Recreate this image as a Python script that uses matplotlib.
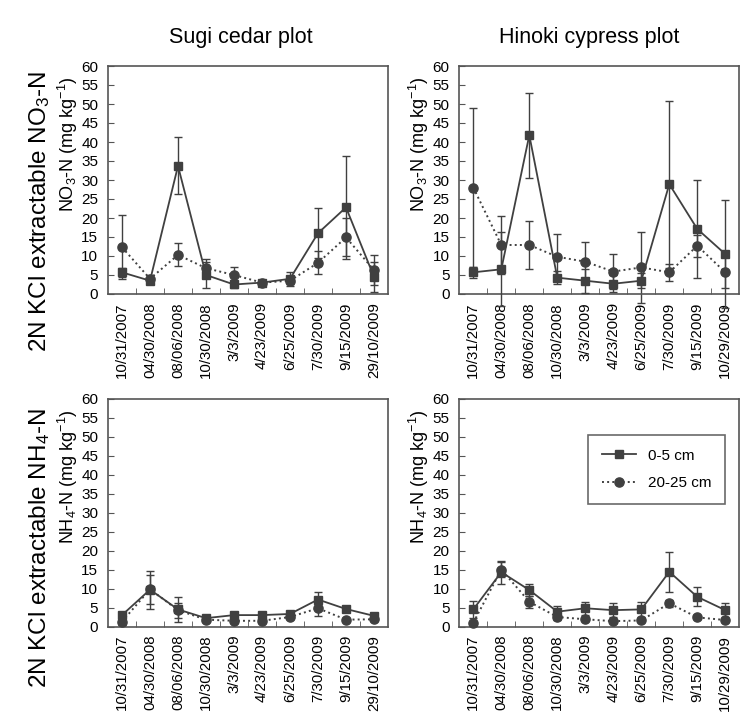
import matplotlib
matplotlib.use("Agg")
import matplotlib.pyplot as plt
from matplotlib.ticker import MultipleLocator, FixedLocator

plt.rcParams['font.family'] = ['Liberation Sans', 'DejaVu Sans']
plt.rcParams['mathtext.default'] = 'regular'

# sampling dates (x categories)
dates_sugi = ['10/31/2007', '04/30/2008', '08/06/2008', '10/30/2008', '3/3/2009',
              '4/23/2009', '6/25/2009', '7/30/2009', '9/15/2009', '29/10/2009']
dates_hinoki = ['10/31/2007', '04/30/2008', '08/06/2008', '10/30/2008', '3/3/2009',
                '4/23/2009', '6/25/2009', '7/30/2009', '9/15/2009', '10/29/2009']

# NO3-N, Sugi cedar plot
sugi_no3_top = [5.7, 3.5, 33.7, 5.0, 2.5, 3.0, 4.0, 16.0, 22.8, 4.5]
sugi_no3_top_sd = [1.2, 0.8, 7.5, 3.5, 0.8, 0.5, 1.8, 6.5, 13.5, 4.0]
sugi_no3_sub = [12.3, 4.0, 10.3, 6.8, 5.0, 3.0, 3.5, 8.2, 14.9, 6.3]
sugi_no3_sub_sd = [8.4, 1.0, 3.0, 2.5, 2.2, 0.5, 1.0, 3.0, 5.0, 4.0]

# NO3-N, Hinoki cypress plot
hinoki_no3_top = [5.7, 6.5, 41.8, 4.3, 3.5, 2.7, 3.5, 28.9, 17.1, 10.5]
hinoki_no3_top_sd = [1.5, 9.7, 11.2, 1.8, 3.2, 2.3, 2.0, 22.0, 13.0, 14.2]
hinoki_no3_sub = [28.0, 12.9, 12.9, 9.8, 8.5, 5.9, 7.0, 5.7, 12.7, 5.7]
hinoki_no3_sub_sd = [21.0, 7.7, 6.3, 5.9, 5.3, 4.5, 9.4, 2.3, 2.9, 4.0]

# NH4-N, Sugi cedar plot
sugi_nh4_top = [3.0, 9.7, 4.5, 2.2, 3.0, 3.0, 3.3, 7.1, 4.6, 2.8]
sugi_nh4_top_sd = [0.8, 5.0, 3.2, 0.5, 0.6, 0.6, 0.5, 2.0, 0.8, 0.6]
sugi_nh4_sub = [1.3, 9.8, 4.3, 1.8, 1.5, 1.5, 2.5, 4.8, 1.8, 1.9]
sugi_nh4_sub_sd = [0.8, 3.8, 2.0, 0.5, 0.5, 0.5, 0.5, 2.0, 0.4, 0.4]

# NH4-N, Hinoki cypress plot
hinoki_nh4_top = [4.5, 14.3, 9.6, 3.9, 4.8, 4.3, 4.5, 14.4, 7.8, 4.3]
hinoki_nh4_top_sd = [2.3, 3.0, 1.5, 1.5, 1.7, 1.8, 2.0, 5.3, 2.5, 1.8]
hinoki_nh4_sub = [1.0, 15.0, 6.5, 2.5, 1.9, 1.4, 1.6, 6.1, 2.4, 1.7]
hinoki_nh4_sub_sd = [0.5, 2.0, 1.5, 0.7, 0.5, 0.5, 0.5, 1.0, 0.4, 0.4]

col_titles = ['Sugi cedar plot', 'Hinoki cypress plot']
row_titles = ['2N KCl extractable NO$_3$-N', '2N KCl extractable NH$_4$-N']
y_titles = ['NO$_3$-N (mg kg$^{-1}$)', 'NH$_4$-N (mg kg$^{-1}$)']
legend_labels = ['0-5 cm', '20-25 cm']

gray = '#404040'

fig = plt.figure(figsize=(7.4, 7.13), dpi=100)

W, H = 740, 713
lefts = [108, 459.3]
bottoms = [294, 626.5]
aw, ah = 280, 228

panels = [
    [(dates_sugi, sugi_no3_top, sugi_no3_top_sd, sugi_no3_sub, sugi_no3_sub_sd),
     (dates_hinoki, hinoki_no3_top, hinoki_no3_top_sd, hinoki_no3_sub, hinoki_no3_sub_sd)],
    [(dates_sugi, sugi_nh4_top, sugi_nh4_top_sd, sugi_nh4_sub, sugi_nh4_sub_sd),
     (dates_hinoki, hinoki_nh4_top, hinoki_nh4_top_sd, hinoki_nh4_sub, hinoki_nh4_sub_sd)],
]

for r in range(2):
    for c in range(2):
        dates, top, top_sd, sub, sub_sd = panels[r][c]
        ax = fig.add_axes([lefts[c] / W, 1 - bottoms[r] / H, aw / W, ah / H])
        x = list(range(1, len(dates) + 1))

        # 20-25 cm (dotted, circles)
        ax.errorbar(x, sub, yerr=sub_sd, fmt='none', ecolor=gray, elinewidth=1,
                    capsize=2.6, capthick=1, clip_on=False, zorder=2)
        ax.plot(x, sub, linestyle=':', color=gray, linewidth=1.4, marker='o',
                markersize=6.6, markerfacecolor=gray, markeredgecolor=gray,
                label=legend_labels[1], clip_on=False, zorder=3)
        # 0-5 cm (solid, squares)
        ax.errorbar(x, top, yerr=top_sd, fmt='none', ecolor=gray, elinewidth=1,
                    capsize=2.6, capthick=1, clip_on=False, zorder=4)
        ax.plot(x, top, linestyle='-', color=gray, linewidth=1.3, marker='s',
                markersize=6.4, markerfacecolor=gray, markeredgecolor=gray,
                label=legend_labels[0], clip_on=False, zorder=5)

        ax.set_xlim(0.5, len(dates) + 0.5)
        ax.set_ylim(0, 60)
        ax.yaxis.set_major_locator(MultipleLocator(5))
        ax.set_xticks(x)
        ax.set_xticklabels(dates, rotation=90, fontsize=10.8)
        ax.xaxis.set_minor_locator(FixedLocator([i + 0.5 for i in x[:-1]]))
        ax.tick_params(axis='x', which='major', length=0, pad=6)
        ax.tick_params(axis='x', which='minor', direction='in', length=4,
                       color='#555555')
        ax.tick_params(axis='y', direction='in', length=4, color='#555555',
                       labelsize=11, pad=7)
        for sp in ax.spines.values():
            sp.set_color('#555555')
            sp.set_linewidth(1.2)

        ax.set_ylabel(y_titles[r], fontsize=13)
        ax.yaxis.set_label_coords(-0.1, 0.655)

        if r == 1 and c == 1:
            h, l = ax.get_legend_handles_labels()
            leg = ax.legend(h[::-1], l[::-1], loc='upper right',
                            bbox_to_anchor=(0.949, 0.84), borderaxespad=0,
                            fontsize=11, fancybox=False, frameon=True,
                            edgecolor='#444444', handlelength=2.2,
                            labelspacing=0.9, borderpad=0.9)
            leg.get_frame().set_linewidth(1.2)

fig.text(241 / W, 1 - 38 / H, col_titles[0], fontsize=15.5, ha='center', va='center')
fig.text(589 / W, 1 - 38 / H, col_titles[1], fontsize=15.5, ha='center', va='center')
fig.text(40 / W, 1 - 211 / H, row_titles[0], fontsize=17.5, rotation=90,
         ha='center', va='center')
fig.text(40 / W, 1 - 548 / H, row_titles[1], fontsize=17.5, rotation=90,
         ha='center', va='center')

fig.savefig('out.png', dpi=100)
